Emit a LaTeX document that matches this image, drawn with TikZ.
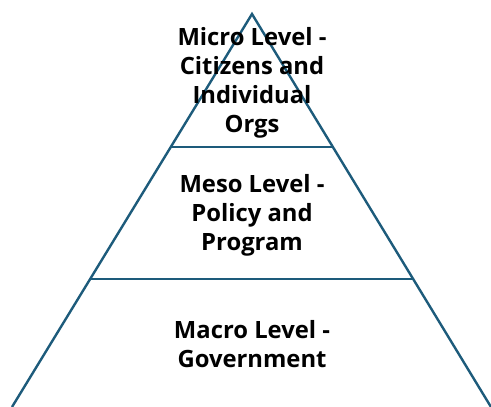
\documentclass[tikz,border=0pt]{standalone}
\usepackage{fontspec}
\setmainfont{Open Sans}
\usepackage{tikz}
\usetikzlibrary{positioning}

\definecolor{pyrline}{HTML}{1D5B7B}

\begin{document}
\begin{tikzpicture}[x=1pt,y=-1pt,
  edge/.style={draw=pyrline,line width=2.4pt},
  level/.style={align=center,font=\fontsize{23.8}{29}\selectfont\bfseries,inner sep=0pt,text=black}]
\useasboundingbox (0,0) rectangle (491,407);
% outline of the pyramid
\coordinate (top) at (252,14);
\coordinate (bl) at (12,407);
\coordinate (br) at (491,407);
\coordinate (l1) at (170.8,147);
\coordinate (r1) at (333.2,147);
\coordinate (l2) at (90.2,279);
\coordinate (r2) at (413.8,279);
\draw[edge] (bl) -- (top) -- (br);
\draw[edge] (l1) -- (r1);
\draw[edge] (l2) -- (r2);
% labels
\node[level] (micro) at (252,83) {Micro Level -\\Citizens and\\Individual\\Orgs};
\node[level] (meso) at (252,215) {Meso Level -\\Policy and\\Program};
\node[level] (macro) at (252,344) {Macro Level -\\Government};
\end{tikzpicture}
\end{document}
